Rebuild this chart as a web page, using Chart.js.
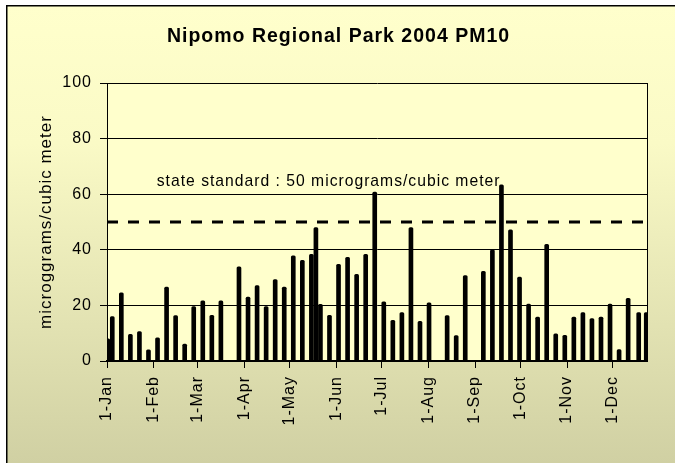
<!DOCTYPE html>
<html>
<head>
<meta charset="utf-8">
<title>Nipomo Regional Park 2004 PM10</title>
<script src="https://cdn.jsdelivr.net/npm/chart.js@4.4.1/dist/chart.umd.min.js"></script>
<style>
  html, body { margin: 0; padding: 0; background: #fff; }
  #wrap { width: 675px; height: 463px; }
</style>
</head>
<body>
<div id="wrap"><canvas id="pmChart" width="675" height="463"></canvas></div>
<script>
'use strict';

// ---- data ----
const SAMPLE_DATES = [
  '2004-01-01', '2004-01-04', '2004-01-10', '2004-01-16', '2004-01-22', '2004-01-28',
  '2004-02-03', '2004-02-09', '2004-02-15', '2004-02-21', '2004-02-27',
  '2004-03-04', '2004-03-10', '2004-03-16', '2004-03-28',
  '2004-04-03', '2004-04-09', '2004-04-15', '2004-04-21', '2004-04-27',
  '2004-05-03', '2004-05-09', '2004-05-15', '2004-05-18', '2004-05-21', '2004-05-27',
  '2004-06-02', '2004-06-08', '2004-06-14', '2004-06-20', '2004-06-26',
  '2004-07-02', '2004-07-08', '2004-07-14', '2004-07-20', '2004-07-26',
  '2004-08-01', '2004-08-13', '2004-08-19', '2004-08-25',
  '2004-09-06', '2004-09-12', '2004-09-18', '2004-09-24', '2004-09-30',
  '2004-10-06', '2004-10-12', '2004-10-18', '2004-10-24', '2004-10-30',
  '2004-11-05', '2004-11-11', '2004-11-17', '2004-11-23', '2004-11-29',
  '2004-12-05', '2004-12-11', '2004-12-18', '2004-12-23'
];
const PM10_VALUES = [
  8, 16, 24.5, 9.6, 10.6, 4,
  8.3, 26.6, 16.3, 6.1, 19.6,
  21.6, 16.4, 21.6, 33.9,
  23, 27.1, 19.6, 29.3, 26.6,
  37.8, 36.2, 38.4, 48, 20.4, 16.4,
  34.8, 37.3, 31.2, 38.4, 60.8,
  21.3, 14.6, 17.4, 48, 14.3,
  20.9, 16.3, 9.1, 30.7,
  32.3, 40, 63.4, 47.2, 30.2,
  20.5, 15.8, 42, 9.8, 9.2,
  15.8, 17.4, 15.3, 15.8, 20.5,
  4.1, 22.5, 17.4, 17.4
];
const STATE_STANDARD = 50;
const STANDARD_TEXT = 'state standard : 50 micrograms/cubic meter';
const MONTH_STARTS = [
  '2004-01-01', '2004-02-01', '2004-03-01', '2004-04-01', '2004-05-01', '2004-06-01',
  '2004-07-01', '2004-08-01', '2004-09-01', '2004-10-01', '2004-11-01', '2004-12-01'
];
const MONTH_TICKS = ['1-Jan', '1-Feb', '1-Mar', '1-Apr', '1-May', '1-Jun',
  '1-Jul', '1-Aug', '1-Sep', '1-Oct', '1-Nov', '1-Dec'];
const Y_TICKS = [0, 20, 40, 60, 80, 100];

// axis span in days from 1-Jan
const X_MIN = 0;
const X_MAX = 358;

const FONT = "'Liberation Sans', Arial, sans-serif";
Chart.defaults.font.family = FONT;
Chart.defaults.color = '#000';

// days since 1 Jan 2004
const dayOfYear = s => (Date.parse(s) - Date.parse('2004-01-01')) / 86400000;

// Excel style text is slightly spaced out
const spacing = {
  id: 'spacing',
  beforeLayout(chart) { chart.ctx.letterSpacing = '1px'; },
  beforeDraw(chart) { chart.ctx.letterSpacing = '1px'; }
};

// gradient page, frame and plot area fill
const frame = {
  id: 'frame',
  beforeDraw(chart) {
    const { ctx, width, height, chartArea: a } = chart;
    ctx.save();
    ctx.fillStyle = '#fff';
    ctx.fillRect(0, 0, width, height);
    const g = ctx.createLinearGradient(0, 6, 0, height);
    g.addColorStop(0, '#FFFFCC');
    g.addColorStop(0.3, '#FAFAC6');
    g.addColorStop(1, '#D0D0A3');
    ctx.fillStyle = g;
    ctx.fillRect(7, 6, width - 7, height - 6);
    ctx.strokeStyle = '#000';
    ctx.lineWidth = 1.5;
    ctx.beginPath();
    ctx.moveTo(6.75, height);
    ctx.lineTo(6.75, 5.75);
    ctx.lineTo(width, 5.75);
    ctx.stroke();
    ctx.fillStyle = '#FFFFCC';
    ctx.fillRect(a.left, a.top, a.right - a.left, a.bottom - a.top);
    ctx.restore();
  }
};

// label above the standard line
const standardLabel = {
  id: 'standardLabel',
  afterDatasetsDraw(chart, args, opts) {
    const { ctx, scales: { x, y } } = chart;
    ctx.save();
    ctx.font = opts.size + 'px ' + FONT;
    ctx.fillStyle = '#000';
    ctx.textBaseline = 'alphabetic';
    ctx.textAlign = 'left';
    ctx.letterSpacing = '1px';
    ctx.fillText(opts.text, x.getPixelForValue(opts.atDay), y.getPixelForValue(opts.atValue));
    ctx.restore();
  }
};

const barData = SAMPLE_DATES.map((d, i) => ({ x: dayOfYear(d) + 0.5, y: PM10_VALUES[i] }));

new Chart(document.getElementById('pmChart'), {
  type: 'bar',
  data: {
    datasets: [
      {
        label: 'PM10',
        data: barData,
        backgroundColor: '#000',
        barThickness: 4,
        borderRadius: 1.5
      },
      {
        type: 'line',
        label: 'state standard',
        data: [{ x: X_MIN, y: STATE_STANDARD }, { x: X_MAX, y: STATE_STANDARD }],
        borderColor: '#000',
        borderWidth: 3,
        borderDash: [11, 10],
        borderCapStyle: 'butt',
        pointRadius: 0,
        fill: false
      }
    ]
  },
  options: {
    responsive: false,
    devicePixelRatio: 1,
    animation: false,
    layout: { padding: { left: 30, right: 28, top: 0, bottom: 0 } },
    scales: {
      x: {
        type: 'linear',
        min: X_MIN,
        max: X_MAX,
        offset: false,
        afterBuildTicks: s => { s.ticks = MONTH_STARTS.map(d => ({ value: dayOfYear(d) })); },
        afterFit: s => { s.height = 102; },
        grid: { drawOnChartArea: false, drawTicks: true, tickLength: 7, color: '#000', offset: false },
        border: { color: '#000', width: 2 },
        ticks: {
          autoSkip: false,
          minRotation: 90,
          maxRotation: 90,
          padding: 8,
          font: { size: 16 },
          callback: (v, i) => MONTH_TICKS[i]
        }
      },
      y: {
        type: 'linear',
        position: 'left',
        min: 0,
        max: 100,
        afterBuildTicks: s => { s.ticks = Y_TICKS.map(v => ({ value: v })); },
        afterFit: s => { s.width = 77; },
        grid: { color: '#000', lineWidth: 1, drawTicks: true, tickLength: 7 },
        border: { color: '#000', width: 1 },
        ticks: { padding: 8, font: { size: 16 } },
        title: {
          display: true,
          text: 'microggrams/cubic meter',
          font: { size: 17 },
          padding: { top: 6, bottom: 0 }
        }
      },
      y2: {
        type: 'linear',
        position: 'right',
        min: 0,
        max: 100,
        afterFit: s => { s.width = 0; },
        ticks: { display: false },
        grid: { drawOnChartArea: false, drawTicks: false },
        border: { display: true, color: '#000', width: 1 }
      }
    },
    plugins: {
      legend: { display: false },
      tooltip: { enabled: false },
      title: {
        display: true,
        text: 'Nipomo Regional Park 2004 PM10',
        font: { size: 19.5, weight: 'bold' },
        padding: { top: 25, bottom: 34.6 }
      },
      standardLabel: { text: STANDARD_TEXT, atDay: 33, atValue: 63, size: 15.7 }
    }
  },
  plugins: [spacing, frame, standardLabel]
});
</script>
</body>
</html>
